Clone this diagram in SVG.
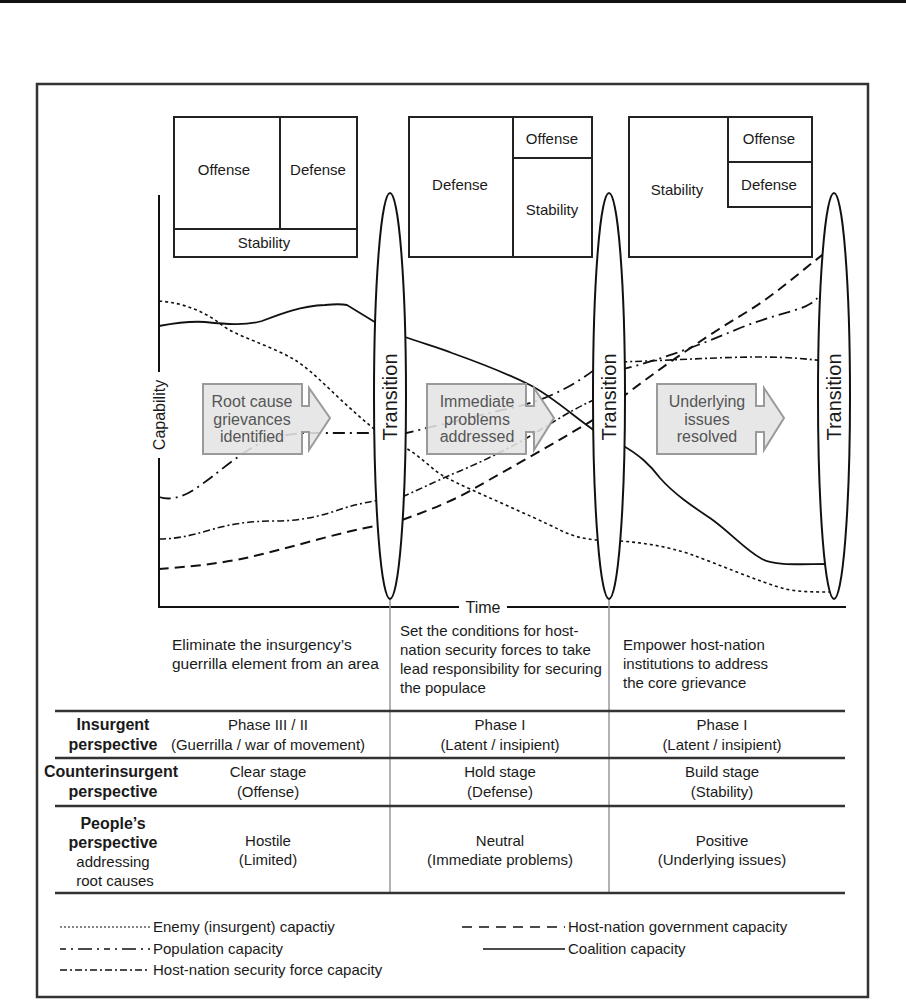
<svg xmlns="http://www.w3.org/2000/svg" width="906" height="1000" viewBox="0 0 906 1000">
<style>
text{font-family:"Liberation Sans",Arial,sans-serif;fill:#1a1a1a}
.box{fill:none;stroke:#222;stroke-width:2}
.t15{font-size:15px}
.t16{font-size:16px}
.b{font-weight:bold;font-size:16px}
.c{text-anchor:middle}
.arr{fill:#e4e4e4;fill-opacity:0.88;stroke:#9a9a9a;stroke-width:2}
.at{font-size:16px;fill:#555;text-anchor:middle}
.ell{fill:#fff;stroke:#111;stroke-width:2}
.tr{font-size:20px;text-anchor:middle}
.cv{fill:none;stroke:#111}
.enemy{stroke-width:1.6;stroke-dasharray:3 3}
.coal{stroke-width:1.8}
.gov{stroke-width:2;stroke-dasharray:10 6}
.pop{stroke-width:1.8;stroke-dasharray:12 5 2 5}
.sec{stroke-width:1.6;stroke-dasharray:7 3 2 3}
.rule{stroke:#333;stroke-width:2.5}
.vg{stroke:#999;stroke-width:1.5}
.n{font-size:15px}
.g{font-size:15.5px}
</style>
<rect x="0" y="0" width="906" height="3" fill="#111"/>
<rect x="37" y="84" width="831" height="913" fill="none" stroke="#333" stroke-width="2.5"/>

<g id="box-clear">
<rect class="box" x="174" y="117" width="183" height="140"/>
<line class="box" x1="280" y1="117" x2="280" y2="229"/>
<line class="box" x1="174" y1="229" x2="357" y2="229"/>
<text class="t15 c" x="224" y="175">Offense</text>
<text class="t15 c" x="318" y="175">Defense</text>
<text class="t15 c" x="264" y="248">Stability</text>
</g>
<g id="box-hold">
<rect class="box" x="409" y="117" width="183" height="140"/>
<line class="box" x1="513" y1="117" x2="513" y2="257"/>
<line class="box" x1="513" y1="158" x2="592" y2="158"/>
<text class="t15 c" x="460" y="190">Defense</text>
<text class="t15 c" x="552" y="144">Offense</text>
<text class="t15 c" x="552" y="215">Stability</text>
</g>
<g id="box-build">
<rect class="box" x="629" y="117" width="183" height="140"/>
<polyline class="box" points="728,117 728,207 812,207"/>
<line class="box" x1="728" y1="162" x2="812" y2="162"/>
<text class="t15 c" x="769" y="144">Offense</text>
<text class="t15 c" x="769" y="190">Defense</text>
<text class="t15 c" x="677" y="195">Stability</text>
</g>

<g id="axes">
<line x1="159" y1="195" x2="159" y2="608" stroke="#111" stroke-width="2"/>
<line x1="158" y1="607" x2="846" y2="607" stroke="#111" stroke-width="2"/>
<rect x="150" y="372" width="20" height="86" fill="#fff"/>
<text class="t16 c" transform="translate(165,415) rotate(-90)">Capability</text>
<rect x="459" y="598" width="48" height="18" fill="#fff"/>
<text class="t16 c" x="483" y="613">Time</text>
</g>

<g id="connectors">
<line class="vg" x1="390" y1="598" x2="390" y2="893"/>
<line class="vg" x1="609" y1="598" x2="609" y2="893"/>
<path class="cv enemy" d="M159,301 C185,303 205,312 222,325 C235,336 270,345 295,360 C315,372 340,402 378,432"/>
<path class="cv enemy" d="M402,446 C420,455 432,470 445,477 C470,490 530,515 560,530 C572,536 583,539 598,540"/>
<path class="cv enemy" d="M620,541 C645,543 665,546 690,554 C720,565 760,582 785,589 C800,592 815,592 830,592"/>
<path class="cv coal" d="M159,326 C175,323 190,321 205,322 C225,324 245,326 262,321 C280,314 300,306 325,305 C335,304 342,304 347,305 L378,324"/>
<path class="cv coal" d="M402,336 C425,344 440,348 452,353 C480,363 510,375 530,385 C555,398 575,418 598,433"/>
<path class="cv coal" d="M620,444 C640,455 650,465 660,478 C675,495 695,508 710,518 C730,532 745,550 762,559 C775,566 800,564 830,564"/>
<path class="cv gov" d="M159,569 C185,567 220,564 250,557 C290,548 340,532 380,525"/>
<path class="cv gov" d="M402,520 C430,510 455,500 475,488 C510,468 560,440 598,417"/>
<path class="cv gov" d="M620,399 C655,372 700,340 745,313 C775,295 800,272 826,252"/>
<path class="cv pop" d="M159,497 C168,500 180,499 195,489 C215,476 240,452 265,441 C280,435 295,433 310,433 L380,433"/>
<path class="cv pop" d="M402,434 C440,425 480,415 520,406 C550,398 575,385 598,367"/>
<path class="cv pop" d="M620,370 C660,360 700,345 740,328 C770,316 800,310 808,305 C814,302 817,299 824,290"/>
<path class="cv sec" d="M159,539 C175,539 190,536 210,530 C230,524 250,521 275,521 C295,521 315,518 335,511 C350,506 362,503 380,500"/>
<path class="cv sec" d="M402,497 C425,487 440,479 460,471 C490,458 520,443 540,430 C560,418 575,408 598,398"/>
<path class="cv sec" d="M620,362 C680,360 720,357 760,357 C790,357 805,359 826,361"/>
</g>

<g id="arrow-root">
<path class="arr" d="M203,384 H302 V406 H309 V388 L330,418 L309,450 V432 H302 V454 H203 Z"/>
<text class="at" x="252" y="407">Root cause</text>
<text class="at" x="252" y="424.5">grievances</text>
<text class="at" x="252" y="442">identified</text>
</g>
<g id="arrow-immediate">
<path class="arr" d="M427,384 H526 V406 H534 V388 L554,418 L534,450 V432 H526 V454 H427 Z"/>
<text class="at" x="477" y="407">Immediate</text>
<text class="at" x="477" y="424.5">problems</text>
<text class="at" x="477" y="442">addressed</text>
</g>
<g id="arrow-underlying">
<path class="arr" d="M657,384 H756 V406 H764 V388 L784,418 L764,450 V432 H756 V454 H657 Z"/>
<text class="at" x="707" y="407">Underlying</text>
<text class="at" x="707" y="424.5">issues</text>
<text class="at" x="707" y="442">resolved</text>
</g>

<g id="transition-1">
<ellipse class="ell" cx="390" cy="396" rx="16" ry="203"/>
<text class="tr" transform="translate(397,397) rotate(-90)">Transition</text>
</g>
<g id="transition-2">
<ellipse class="ell" cx="609" cy="396" rx="16" ry="203"/>
<text class="tr" transform="translate(616,397) rotate(-90)">Transition</text>
</g>
<g id="transition-3">
<ellipse class="ell" cx="834" cy="396" rx="16" ry="203"/>
<text class="tr" transform="translate(841,397) rotate(-90)">Transition</text>
</g>

<g id="goals">
<text class="g" x="172" y="650">Eliminate the insurgency’s</text>
<text class="g" x="172" y="669">guerrilla element from an area</text>
<text class="n" x="400" y="636">Set the conditions for host-</text>
<text class="n" x="400" y="655">nation security forces to take</text>
<text class="n" x="400" y="674">lead responsibility for securing</text>
<text class="n" x="400" y="693">the populace</text>
<text class="n" x="623" y="650">Empower host-nation</text>
<text class="n" x="623" y="669">institutions to address</text>
<text class="n" x="623" y="688">the core grievance</text>
</g>

<g id="table">
<line class="rule" x1="55" y1="711" x2="845" y2="711"/>
<line class="rule" x1="55" y1="758" x2="845" y2="758"/>
<line class="rule" x1="55" y1="806" x2="845" y2="806"/>
<line class="rule" x1="55" y1="893" x2="845" y2="893"/>
<text class="b c" x="113" y="730">Insurgent</text>
<text class="b c" x="113" y="750">perspective</text>
<text class="n c" x="268" y="730">Phase III / II</text>
<text class="n c" x="268" y="750">(Guerrilla / war of movement)</text>
<text class="n c" x="500" y="730">Phase I</text>
<text class="n c" x="500" y="750">(Latent / insipient)</text>
<text class="n c" x="722" y="730">Phase I</text>
<text class="n c" x="722" y="750">(Latent / insipient)</text>
<text class="b c" x="111" y="777">Counterinsurgent</text>
<text class="b c" x="113" y="797">perspective</text>
<text class="n c" x="268" y="777">Clear stage</text>
<text class="n c" x="268" y="797">(Offense)</text>
<text class="n c" x="500" y="777">Hold stage</text>
<text class="n c" x="500" y="797">(Defense)</text>
<text class="n c" x="722" y="777">Build stage</text>
<text class="n c" x="722" y="797">(Stability)</text>
<text class="b c" x="113" y="829">People’s</text>
<text class="b c" x="113" y="848">perspective</text>
<text class="n c" x="113" y="867">addressing</text>
<text class="n c" x="115" y="886">root causes</text>
<text class="n c" x="268" y="846">Hostile</text>
<text class="n c" x="268" y="865">(Limited)</text>
<text class="n c" x="500" y="846">Neutral</text>
<text class="n c" x="500" y="865">(Immediate problems)</text>
<text class="n c" x="722" y="846">Positive</text>
<text class="n c" x="722" y="865">(Underlying issues)</text>
</g>

<g id="legend">
<line class="cv" x1="60" y1="927" x2="150" y2="927" stroke-width="1.2" stroke-dasharray="2 2"/>
<text class="n" x="153" y="932">Enemy (insurgent) capactiy</text>
<line class="cv" x1="60" y1="949" x2="150" y2="949" stroke-width="1.4" stroke-dasharray="6 5 2 5 14 5 2 5"/>
<text class="n" x="153" y="954">Population capacity</text>
<line class="cv" x1="60" y1="970" x2="150" y2="970" stroke-width="1.4" stroke-dasharray="7 3 2 3"/>
<text class="n" x="153" y="975">Host-nation security force capacity</text>
<line class="cv" x1="462" y1="927" x2="565" y2="927" stroke-width="1.4" stroke-dasharray="10 7"/>
<text class="n" x="568" y="932">Host-nation government capacity</text>
<line class="cv" x1="483" y1="949" x2="565" y2="949" stroke-width="1.4"/>
<text class="n" x="568" y="954">Coalition capacity</text>
</g>
</svg>
